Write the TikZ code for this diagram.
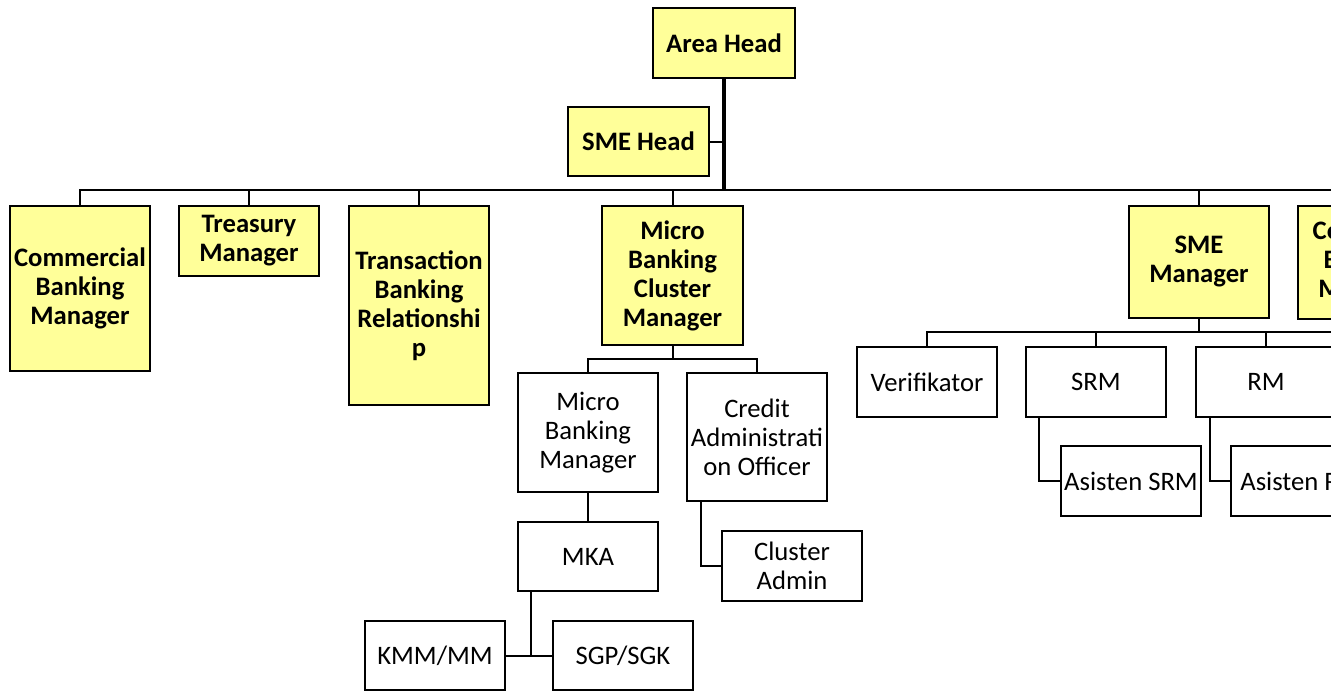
\documentclass[tikz,border=0pt]{standalone}
\usepackage{fontspec}
\setmainfont{Carlito}
\usepackage{xcolor}
\usepackage{tikz}
\usetikzlibrary{calc,positioning}
\definecolor{ink}{HTML}{000000}
\definecolor{pale}{HTML}{FFFF99}
\newcommand{\orgsize}{\fontsize{20pt}{21.75pt}\selectfont}
\tikzset{
  head/.style={draw=ink, fill=pale, line width=1.5pt, font=\orgsize\bfseries, align=center, inner sep=0pt, minimum width=105pt, minimum height=52.5pt},
  unit/.style={draw=ink, fill=white, line width=1.5pt, font=\orgsize, align=center, inner sep=0pt, minimum width=105pt, minimum height=52.5pt},
  trunk/.style={draw=ink, line width=2.6pt},
  bar/.style={draw=ink, line width=2pt},
  link/.style={draw=ink, line width=1.5pt},
}

\begin{document}
\begin{tikzpicture}[x=0.75pt, y=-0.75pt]
  \useasboundingbox (0,0) rectangle (1331,692);
  \clip (0,0) rectangle (1331,692);
  \fill[white] (0,0) rectangle (1331,692);

  % top level
  \node[head, minimum width=106.5pt] (area) at (724,43) {Area Head};
  \node[head, minimum width=105.75pt, minimum height=51.75pt] (smehead) at (638.5,141.5) {SME Head};

  % second row
  \node[head, minimum height=123.75pt] (cbm) at (80,288.5) {Commercial\\Banking\\Manager};
  \node[head] (tm) at (249,241) {Treasury\\Manager};
  \node[head, minimum height=149.25pt] (tbr) at (419,305.5) {Transaction\\Banking\\Relationshi\\p};
  \node[head, minimum width=105.75pt, minimum height=104.25pt] (mbcm) at (672.5,275.5) {Micro\\Banking\\Cluster\\Manager};
  \node[head, minimum height=84pt] (smem) at (1199,262) {SME\\Manager};
  \node[head, minimum height=84.75pt] (cpm) at (1368,262.5) {Corporate\\Banking\\Manager};

  % micro banking branch
  \node[unit, minimum height=89.25pt] (mbm) at (588,432.5) {Micro\\Banking\\Manager};
  \node[unit, minimum height=96pt] (cao) at (757,437) {Credit\\Administrati\\on Officer};
  \node[unit, minimum height=51.75pt] (mka) at (588,556.5) {MKA};
  \node[unit] (cadm) at (792,566) {Cluster\\Admin};
  \node[unit, minimum height=51.75pt] (kmm) at (435,655.5) {KMM/MM};
  \node[unit, minimum height=51.75pt] (sgp) at (623,655.5) {SGP/SGK};

  % sme branch
  \node[unit] (verif) at (927,382) {Verifikator};
  \node[unit] (srm) at (1096,382) {SRM};
  \node[unit] (rm) at (1266,382) {RM};
  \node[unit] (asrm) at (1131,481) {Asisten SRM};
  \node[unit] (arm) at (1301,481) {Asisten RM};

  % connectors
  \coordinate (topR) at (1345,190);
  \coordinate (mbR) at (672.5,359);
  \coordinate (smeR) at (1345,332);

  \draw[trunk] (area.south) -- (area.south |- topR);
  \draw[link] (smehead.east) -- (smehead.east -| area.south);
  \draw[bar] (cbm.north) |- (topR);
  \foreach \n in {tm,tbr,mbcm,smem,cpm}
    \draw[link] (\n.north) -- (\n.north |- topR);

  \draw[link] (mbcm.south) -- (mbR);
  \draw[link] (mbm.north) |- (mbR) -| (cao.north);
  \draw[link] (mbm) -- (mka);
  \draw[link] ([xshift=11.25pt]cao.south west) |- (cadm.west);
  \draw[link] ([xshift=10.5pt]mka.south west) |- (kmm.east);
  \draw[link] (kmm.east) -- (sgp.west);

  \draw[link] (smem.south) -- (smem.south |- smeR);
  \draw[bar] (verif.north) |- (smeR);
  \foreach \n in {srm,rm}
    \draw[link] (\n.north) -- (\n.north |- smeR);
  \draw[link] ([xshift=10.5pt]srm.south west) |- (asrm.west);
  \draw[link] ([xshift=11.25pt]rm.south west) |- (arm.west);
\end{tikzpicture}
\end{document}
